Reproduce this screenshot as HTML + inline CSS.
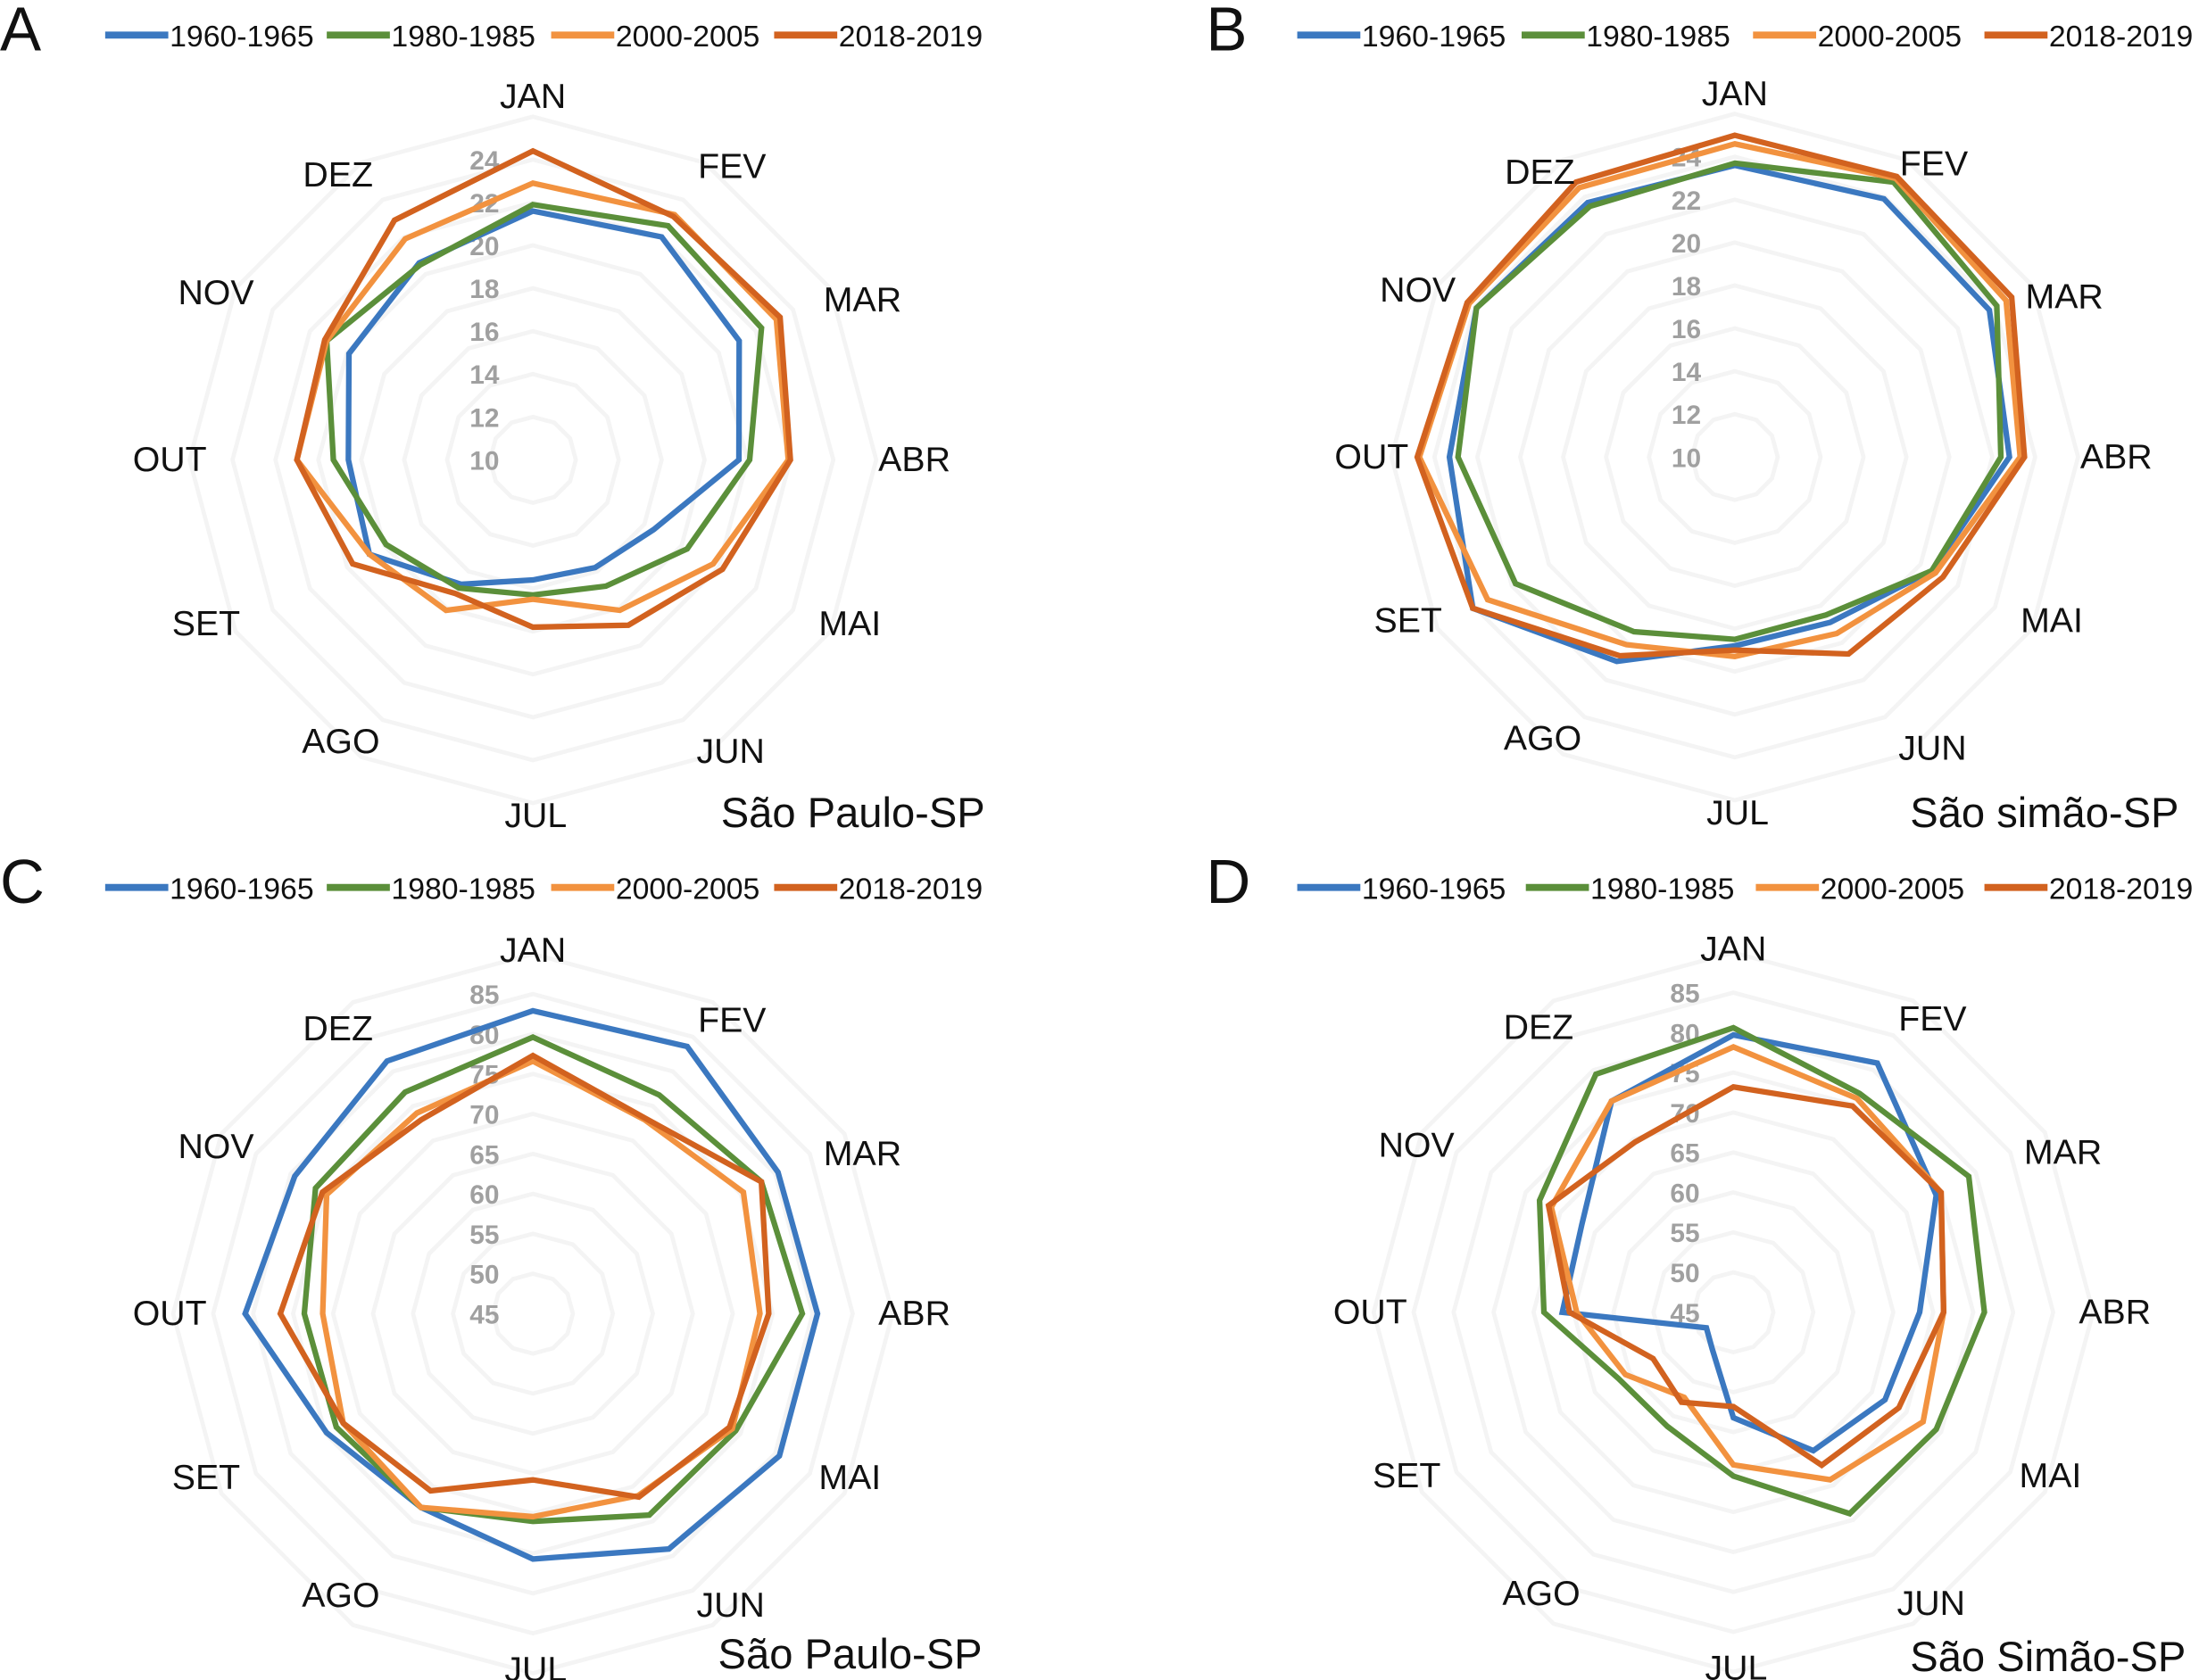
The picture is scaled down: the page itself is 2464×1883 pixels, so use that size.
<!DOCTYPE html>
<html><head><meta charset="utf-8">
<style>
html,body{margin:0;padding:0;background:#fff;}
svg{display:block;}
text{font-family:"Liberation Sans",Arial,sans-serif;}
</style></head>
<body>
<svg id="chart" width="2464" height="1883" viewBox="0 0 1568 1198.3" preserveAspectRatio="none" xmlns="http://www.w3.org/2000/svg"></svg>
<script>
const months = ["JAN","FEV","MAR","ABR","MAI","JUN","JUL","AGO","SET","OUT","NOV","DEZ"];
const seriesNames = ["1960-1965","1980-1985","2000-2005","2018-2019"];
const ticksTemp = [10,12,14,16,18,20,22,24];
const ticksHum = [45,50,55,60,65,70,75,80,85];

const a1960 = [21.6,22.0,21.1,19.6,16.5,15.8,15.6,16.7,18.8,18.6,19.9,20.6];
const a1980 = [21.9,22.6,22.3,20.1,18.3,16.8,16.3,16.9,17.9,19.3,21.1,20.5];
const a2000 = [22.9,23.2,23.1,21.9,19.7,18.1,16.5,18.1,18.8,21.0,21.1,21.9];
const a2018 = [24.4,23.1,23.3,22.0,20.2,18.9,17.8,17.2,19.7,21.0,21.2,22.9];

const b1960 = [23.6,23.9,23.7,22.8,20.6,18.9,18.8,21.0,24.1,23.3,23.9,23.7];
const b1980 = [23.7,24.8,24.1,22.4,20.6,18.5,18.5,19.4,21.8,22.9,23.9,23.5];
const b2000 = [24.6,25.0,24.6,23.3,20.8,19.5,19.3,20.1,23.3,24.7,24.3,24.5];
const b2018 = [25.0,25.1,24.9,23.5,21.2,20.6,19.0,20.7,24.1,24.8,24.4,24.8];

const c1960 = [82.9,83.6,80.4,80.6,80.6,79.0,75.7,73.0,74.8,81.0,79.4,81.5];
const c1980 = [79.6,76.6,78.0,78.7,74.3,74.1,71.0,73.0,73.4,73.6,76.4,77.0];
const c2000 = [76.6,73.0,75.4,73.4,73.8,71.3,70.4,73.0,72.4,71.3,74.8,74.0];
const c2018 = [77.3,73.2,78.0,74.5,73.4,71.5,65.8,70.6,72.4,76.6,75.4,73.0];

const d1960 = [79.7,81.0,74.3,68.3,66.9,65.0,58.2,50.3,48.9,66.4,66.9,75.5];
const d1980 = [80.6,76.6,79.0,76.4,74.3,74.1,65.5,61.5,61.6,68.7,73.0,79.4];
const d2000 = [78.2,75.9,75.0,71.3,72.4,69.2,64.1,57.3,60.6,64.6,71.3,75.5];
const d2018 = [73.2,74.8,75.0,71.3,68.9,67.1,56.8,58.0,56.6,65.5,71.7,69.6];

const colors = ["#3b78c0","#5b8f3a","#f2923f","#d2621f"];
const NS = "http://www.w3.org/2000/svg";
const svg = document.getElementById("chart");

// month label offsets from chart centre (layout, not data)
const labelDX = [0,142,235,272,226,141,2,-137,-233,-259,-226,-139];
const labelDY = [-260,-210,-115,-1,116,207,253,200,116,-1,-120,-204];

function mk(tag, attrs, parent){
  const e = document.createElementNS(NS, tag);
  for (const k in attrs) e.setAttribute(k, attrs[k]);
  (parent||svg).appendChild(e);
  return e;
}

const panels = [
  {id:"a", letter:"A", cx:380, cy:328, min:10, unit:15.3, ticks:ticksTemp, data:[a1960,a1980,a2000,a2018], title:"São Paulo-SP", tx:514, ty:590, lx:0, ly:0, legX:[75,233,393,552], rings:8, step:2},
  {id:"b", letter:"B", cx:1237, cy:326, min:10, unit:15.3, ticks:ticksTemp, data:[b1960,b1980,b2000,b2018], title:"São simão-SP", tx:1362, ty:590, lx:860, ly:0, legX:[925,1085,1250,1415], rings:8, step:2},
  {id:"c", letter:"C", cx:380, cy:937, min:45, unit:5.7, ticks:ticksHum, data:[c1960,c1980,c2000,c2018], title:"São Paulo-SP", tx:512, ty:1190, lx:0, ly:608, legX:[75,233,393,552], rings:9, step:5},
  {id:"d", letter:"D", cx:1236, cy:936, min:45, unit:5.7, ticks:ticksHum, data:[d1960,d1980,d2000,d2018], title:"São Simão-SP", tx:1362, ty:1192, lx:860, ly:608, legX:[925,1088,1252,1415], rings:9, step:5}
];

function angle(i){ return i*Math.PI/6; }

panels.forEach(p => {
  const g = mk("g", {});
  
  
  const rOf = v => (v - p.min) * p.unit;
  const pt = (i, r) => [p.cx + r*Math.sin(angle(i)), p.cy - r*Math.cos(angle(i))];

  const grid = mk("g", {}, g);
  
  
  for (let k = 1; k <= p.rings; k++) {
    const r = rOf(p.min + k*p.step);
    const pts = months.map((m,i) => pt(i, r).join(",")).join(" ");
    const ring = mk("polygon", {points:pts, fill:"none", stroke:"#f4f4f4", "stroke-width":3}, grid);
    
    
  }

  p.ticks.forEach(t => {
    const tl = mk("text", {x:p.cx-24, y:p.cy - rOf(t) + 7, "text-anchor":"end", "font-size":19, "font-weight":"bold", fill:"#a0a0a0"}, g);
    tl.textContent = t;
    
    
  });

  p.data.forEach((vals, s) => {
    const pts = vals.map((v,i) => pt(i, rOf(v)).join(",")).join(" ");
    const poly = mk("polygon", {points:pts, fill:"none", stroke:colors[s], "stroke-width":4, "stroke-linejoin":"miter"}, g);
    
    
  });

  months.forEach((m,i) => {
    const ml = mk("text", {x:p.cx + labelDX[i], y:p.cy + labelDY[i] + 9, "text-anchor":"middle", "font-size":25, fill:"#111"}, g);
    ml.textContent = m;
    
    
  });

  const tt = mk("text", {x:p.tx, y:p.ty, "font-size":30, fill:"#111"}, g);
  tt.textContent = p.title;
  
  

  const lt = mk("text", {x:p.lx, y:p.ly+36, "font-size":44, fill:"#111"}, g);
  lt.textContent = p.letter;
  
  

  const lg = mk("g", {}, g);
  
  
  seriesNames.forEach((n, s) => {
    const x0 = p.legX[s];
    const ly = p.ly + 25;
    const ln = mk("line", {x1:x0, y1:ly, x2:x0+45, y2:ly, stroke:colors[s], "stroke-width":5}, lg);
    
    
    const lt2 = mk("text", {x:x0+46, y:ly+8, "font-size":21.5, fill:"#111"}, lg);
    lt2.textContent = n;
    
    
  });
});
</script>
</body></html>
